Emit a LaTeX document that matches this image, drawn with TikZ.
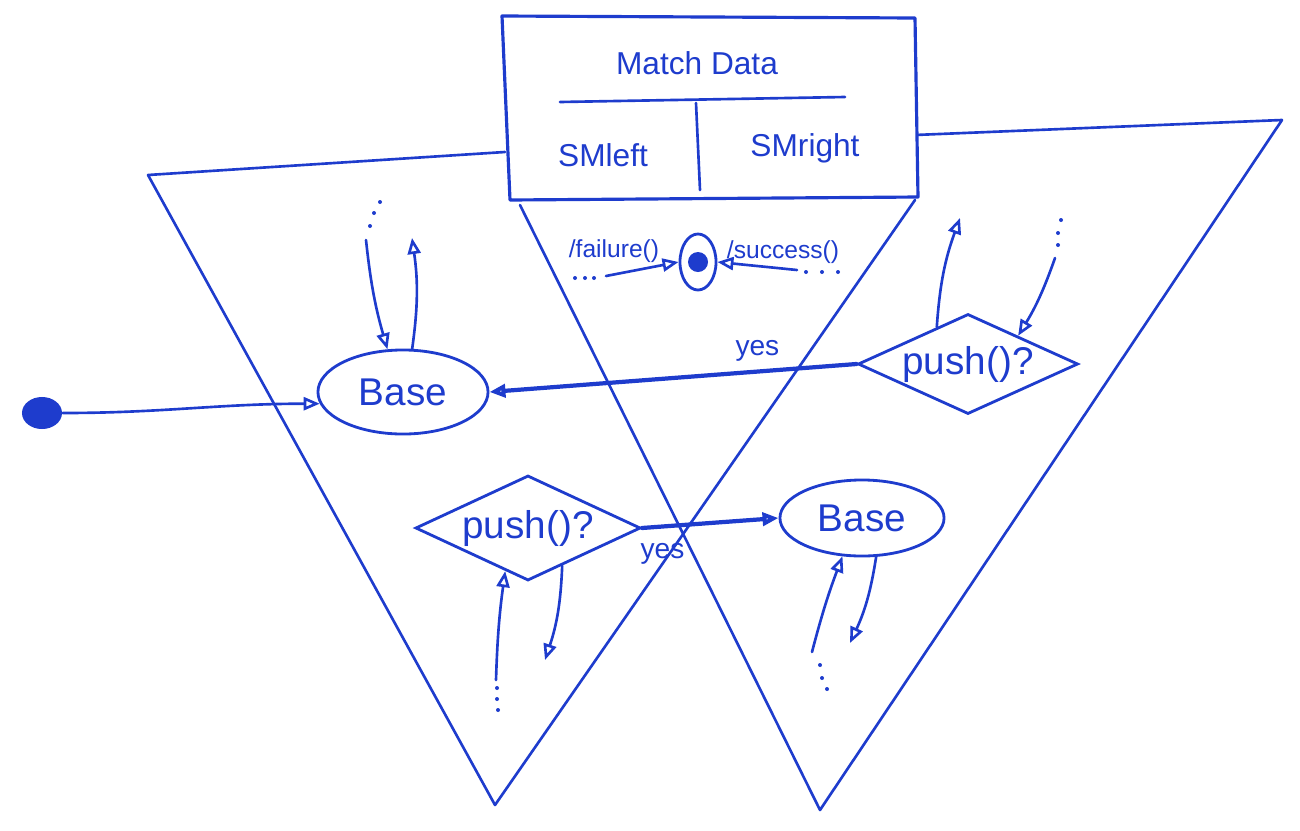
\documentclass[tikz,border=0pt]{standalone}
\usepackage{fontspec}
\setmainfont{Liberation Sans}
\usetikzlibrary{shapes.geometric,arrows.meta,calc}
\definecolor{pen}{RGB}{30,60,205}
\begin{document}
\begin{tikzpicture}[x=0.01cm,y=-0.01cm,
  ink/.style={draw=pen,line width=0.75pt,line cap=round,line join=round},
  arr/.style={ink,-{Triangle[open,length=1.6mm,width=1.3mm]}},
  thickarr/.style={arr,line width=1.2pt},
  state/.style={ellipse,draw=pen,line width=0.8pt,text=pen,inner sep=0pt,
    font=\fontsize{11}{13}\selectfont},
  choice/.style={diamond,shape aspect=2.2,draw=pen,line width=0.8pt,text=pen,inner sep=0pt,
    font=\fontsize{11}{13}\selectfont},
  boxtext/.style={text=pen,font=\fontsize{9}{11}\selectfont},
  lbl/.style={text=pen,font=\fontsize{7}{8}\selectfont},
  yeslbl/.style={text=pen,font=\fontsize{8}{9}\selectfont},
  dot/.style={fill=pen}]
\useasboundingbox (0,0) rectangle (1300,830);

% triangles
\draw[ink] (505,152) -- (148,175) -- (495,805) -- (915,200);
\draw[ink] (520,205) -- (820,810) -- (1282,120) -- (915,135);

% Match Data box
\draw[ink,line width=0.9pt,fill=white] (502,16) -- (915,18) -- (918,197) -- (510,200) -- cycle;
\draw[ink] (560,102) -- (845,97);
\draw[ink] (696,103) -- (700,190);
\node[boxtext] (md) at (697,63) {Match Data};
\node[boxtext] (sml) at (603,155) {SMleft};
\node[boxtext] (smr) at (805,148) {SMright};

% final state
\node[ellipse,draw=pen,line width=0.8pt,minimum width=0.36cm,minimum height=0.56cm,inner sep=0pt] (final) at (698,262) {};
\fill[fill=pen] (final.center) circle (0.1cm);
\coordinate (fl) at (606,276);
\coordinate (fr) at (797,270);
\foreach \x in {575,585,594} \fill[dot] (\x,278) circle (0.02cm);
\foreach \x in {806,822,838} \fill[dot] (\x,272) circle (0.02cm);
\draw[arr] (fl) -- (final.west);
\draw[arr] (fr) -- (final.east);
\node[lbl] (lf) at (614,251) {/failure()};
\node[lbl] (ls) at (783,252) {/success()};

% initial state and Base 1
\node[ellipse,fill=pen,minimum width=0.4cm,minimum height=0.32cm,inner sep=0pt] (init) at (42,413) {};
\node[state,minimum width=1.7cm,minimum height=0.84cm] (base1) at (403,392) {Base};
\draw[arr] (init.east) to[out=0,in=180] (base1.188);

\coordinate (b1in) at (366,240);
\coordinate (b1out) at (412,238);
\foreach \p in {(370,226),(374,213),(380,202)} \fill[dot] \p circle (0.02cm);
\draw[arr] (b1in) to[bend right=5] (base1.110);
\draw[arr] (base1.78) to[bend right=8] (b1out);

% right push()? diamond
\node[choice,minimum width=2.2cm,minimum height=1cm] (d1) at (968,364) {push()?};
\draw[thickarr] (d1.west) -- (base1.east) node[yeslbl,pos=0.27,above=-1pt] {yes};
\coordinate (d1out) at (960,218);
\coordinate (d1in) at (1055,258);
\foreach \p in {(1061,220),(1058,233),(1058,245)} \fill[dot] \p circle (0.02cm);
\draw[arr] ($(d1.west)!0.72!(d1.north)$) to[bend left=8] (d1out);
\draw[arr] (d1in) to[bend left=6] ($(d1.north)!0.45!(d1.east)$);

% lower push()? diamond and Base 2
\node[choice,minimum width=2.25cm,minimum height=1.05cm] (d2) at (528,528) {push()?};
\node[state,minimum width=1.64cm,minimum height=0.76cm] (base2) at (862,518) {Base};
\draw[thickarr] (d2.east) -- (base2.west) node[yeslbl,pos=0.15,below=1pt] {yes};

\coordinate (d2in) at (496,680);
\coordinate (d2out) at (545,660);
\foreach \p in {(497,688),(497,699),(498,710)} \fill[dot] \p circle (0.02cm);
\draw[arr] (d2in) to[bend left=3] ($(d2.west)!0.8!(d2.south)$);
\draw[arr] ($(d2.south)!0.3!(d2.east)$) to[bend left=8] (d2out);

\coordinate (b2in) at (812,652);
\coordinate (b2out) at (850,643);
\foreach \p in {(820,665),(822,678),(827,689)} \fill[dot] \p circle (0.02cm);
\draw[arr] (b2in) to[bend left=3] (base2.243);
\draw[arr] (base2.290) to[bend left=8] (b2out);
\end{tikzpicture}
\end{document}
